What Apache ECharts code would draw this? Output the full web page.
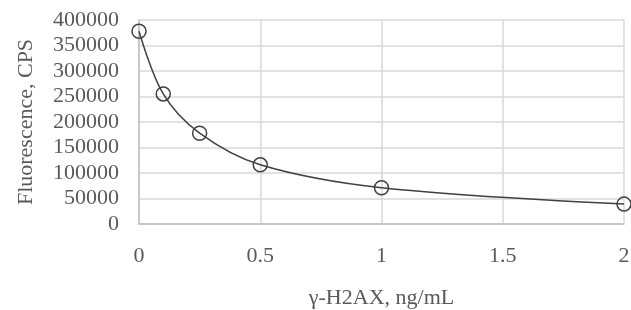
<!DOCTYPE html>
<html><head><meta charset="utf-8">
<script src="https://cdn.jsdelivr.net/npm/echarts@6/dist/echarts.min.js"></script>
<style>html,body{margin:0;padding:0;background:#fff}#c{width:631px;height:310px}</style>
</head><body><div id="c"></div>
<script>
const concentrations = [0, 0.1, 0.25, 0.5, 1, 2];
const fluorescence = [378000, 255000, 178000, 116000, 71000, 39000];
const xTitle = 'γ-H2AX, ng/mL';
const yTitle = 'Fluorescence, CPS';

const chart = echarts.init(document.getElementById('c'), null, {renderer: 'canvas'});
const font = "'Liberation Serif', 'Times New Roman', serif";
chart.setOption({
  animation: false,
  grid: {left: 139, right: 7, top: 20, bottom: 86, containLabel: false, outerBoundsMode: 'none'},
  xAxis: {
    type: 'value', min: 0, max: 2, interval: 0.5,
    name: xTitle, nameLocation: 'middle', nameGap: 63,
    nameTextStyle: {fontFamily: font, fontSize: 22, color: '#595959'},
    axisLine: {show: true, lineStyle: {color: '#bfbfbf', width: 1.5}},
    axisTick: {show: false},
    axisLabel: {fontFamily: font, fontSize: 22, color: '#595959', margin: 21},
    splitLine: {show: true, lineStyle: {color: '#d9d9d9', width: 1.5}}
  },
  yAxis: {
    type: 'value', min: 0, max: 400000, interval: 50000,
    name: yTitle, nameLocation: 'middle', nameGap: 102, nameRotate: 90,
    nameTextStyle: {fontFamily: font, fontSize: 22, color: '#595959'},
    axisLine: {show: true, lineStyle: {color: '#bfbfbf', width: 1.5}},
    axisTick: {show: false},
    axisLabel: {fontFamily: font, fontSize: 22, color: '#595959', margin: 20,
      formatter: v => String(v)},
    splitLine: {show: true, lineStyle: {color: '#d9d9d9', width: 1.5}}
  },
  series: [{
    type: 'line',
    data: concentrations.map((x, i) => [x, fluorescence[i]]),
    smooth: 0.35,
    symbol: 'circle', symbolSize: 14,
    lineStyle: {color: '#404040', width: 1.5},
    itemStyle: {color: 'rgba(255,255,255,0)', borderColor: '#404040', borderWidth: 1.5},
    clip: false
  }]
});
</script></body></html>
